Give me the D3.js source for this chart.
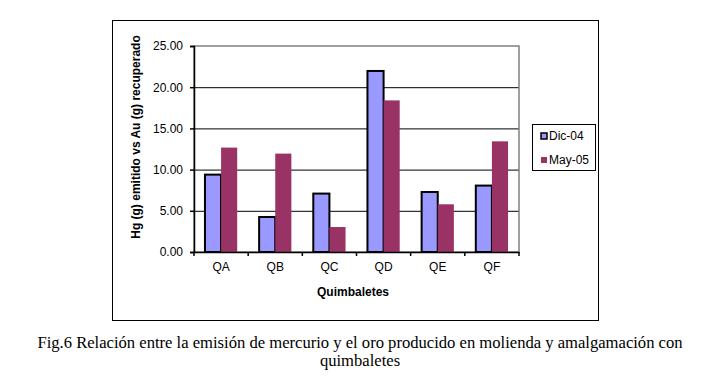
<!DOCTYPE html>
<html>
<head>
<meta charset="utf-8">
<script src="https://cdn.jsdelivr.net/npm/d3@7"></script>
<style>
  body { margin: 0; background: #fff; }
  svg { display: block; }
  text { font-family: "Liberation Sans", Arial, sans-serif; }
</style>
</head>
<body>
<svg width="718" height="385"></svg>
<script>
const categories = ['QA', 'QB', 'QC', 'QD', 'QE', 'QF'];
const seriesNames = ['Dic-04', 'May-05'];
const dic04 = [9.39, 4.25, 7.09, 21.97, 7.28, 8.06];
const may05 = [12.67, 11.94, 3.03, 18.4, 5.79, 13.43];
const yTicks = [0, 5, 10, 15, 20, 25];

const colors = ['#9999ff', '#993366'];
const svg = d3.select('svg');

// outer chart frame
svg.append('rect')
  .attr('x', 112.5).attr('y', 20.5)
  .attr('width', 486).attr('height', 300)
  .attr('fill', 'none').attr('stroke', '#000').attr('stroke-width', 1);

const plot = { left: 194, top: 46, right: 519, bottom: 252 };

const x = d3.scaleBand()
  .domain(categories)
  .range([plot.left, plot.right]);

const xSeries = d3.scaleBand()
  .domain(seriesNames)
  .range([0, x.bandwidth()])
  .paddingOuter(0.68)
  .paddingInner(0);

const y = d3.scaleLinear()
  .domain([0, 25])
  .range([plot.bottom, plot.top]);

const g = svg.append('g');

// gridlines
g.selectAll('.grid')
  .data(yTicks.filter((d) => d > 0 && d < 25))
  .join('line')
  .attr('x1', plot.left).attr('x2', plot.right)
  .attr('y1', (d) => y(d) + 0.5).attr('y2', (d) => y(d) + 0.5)
  .attr('stroke', '#000').attr('stroke-width', 1);

// plot area border (grey)
g.append('rect')
  .attr('x', plot.left).attr('y', plot.top)
  .attr('width', plot.right - plot.left).attr('height', plot.bottom - plot.top)
  .attr('fill', 'none').attr('stroke', '#808080').attr('stroke-width', 1.5);

// bars
const rows = categories.map((c, i) => ({ cat: c, values: [dic04[i], may05[i]] }));
const groups = g.selectAll('.grp')
  .data(rows)
  .join('g')
  .attr('transform', (d) => `translate(${x(d.cat)},0)`);

groups.selectAll('rect')
  .data((d) => d.values.map((v, j) => ({ name: seriesNames[j], v, j })))
  .join('rect')
  .attr('x', (d) => xSeries(d.name))
  .attr('y', (d) => y(d.v))
  .attr('width', xSeries.bandwidth())
  .attr('height', (d) => plot.bottom - y(d.v))
  .attr('fill', (d) => colors[d.j])
  .attr('stroke', (d) => (d.j === 0 ? '#000' : 'none'))
  .attr('stroke-width', 2);

// y axis
const yAxis = g.append('g')
  .attr('transform', `translate(${plot.left},0)`)
  .call(d3.axisLeft(y).tickValues(yTicks).tickSize(4).tickFormat(d3.format('.2f')));
yAxis.select('.domain').attr('stroke', '#000').attr('stroke-width', 1.5);
yAxis.selectAll('.tick line').attr('stroke', '#000').attr('stroke-width', 1.5);
yAxis.selectAll('text')
  .attr('x', -11)
  .style('font-size', '12px')
  .attr('fill', '#000');

// x axis
const xAxis = g.append('g')
  .attr('transform', `translate(0,${plot.bottom})`)
  .call(d3.axisBottom(x).tickSize(0));
xAxis.select('.domain').attr('stroke', '#000').attr('stroke-width', 1.5);
xAxis.selectAll('text')
  .attr('y', 10)
  .style('font-size', '12px')
  .attr('fill', '#000');
g.selectAll('.xtick')
  .data(d3.range(categories.length + 1))
  .join('line')
  .attr('x1', (i) => plot.left + i * x.bandwidth())
  .attr('x2', (i) => plot.left + i * x.bandwidth())
  .attr('y1', plot.bottom).attr('y2', plot.bottom + 4)
  .attr('stroke', '#000').attr('stroke-width', 1.5);

// axis titles
svg.append('text')
  .attr('x', 353).attr('y', 296)
  .attr('text-anchor', 'middle')
  .style('font-size', '12px').style('font-weight', 'bold')
  .text('Quimbaletes');

svg.append('text')
  .attr('transform', 'translate(140,137) rotate(-90)')
  .attr('text-anchor', 'middle')
  .style('font-size', '12px').style('font-weight', 'bold')
  .text('Hg (g) emitido vs Au (g) recuperado');

// legend
const legend = svg.append('g');
legend.append('rect')
  .attr('x', 532.5).attr('y', 124.5)
  .attr('width', 63).attr('height', 46)
  .attr('fill', '#fff').attr('stroke', '#000').attr('stroke-width', 1);

const items = legend.selectAll('.item')
  .data(seriesNames)
  .join('g')
  .attr('transform', (d, i) => `translate(541,${136 + i * 24})`);
items.append('rect')
  .attr('x', 0).attr('y', -3)
  .attr('width', 6).attr('height', 6)
  .attr('fill', (d, i) => colors[i])
  .attr('stroke', (d, i) => (i === 0 ? '#000' : 'none'))
  .attr('stroke-width', 1.5);
items.append('text')
  .attr('x', 8).attr('y', 4)
  .style('font-size', '12px')
  .text((d) => d);

// caption
const caption = svg.append('g')
  .style('font-size', '16.6px');
caption.append('text')
  .attr('x', 360).attr('y', 348)
  .attr('text-anchor', 'middle')
  .style('font-family', '"Liberation Serif", "Times New Roman", serif')
  .text('Fig.6 Relación entre la emisión de mercurio y el oro producido en molienda y amalgamación con');
caption.append('text')
  .attr('x', 360).attr('y', 366)
  .attr('text-anchor', 'middle')
  .style('font-family', '"Liberation Serif", "Times New Roman", serif')
  .text('quimbaletes');
</script>
</body>
</html>
